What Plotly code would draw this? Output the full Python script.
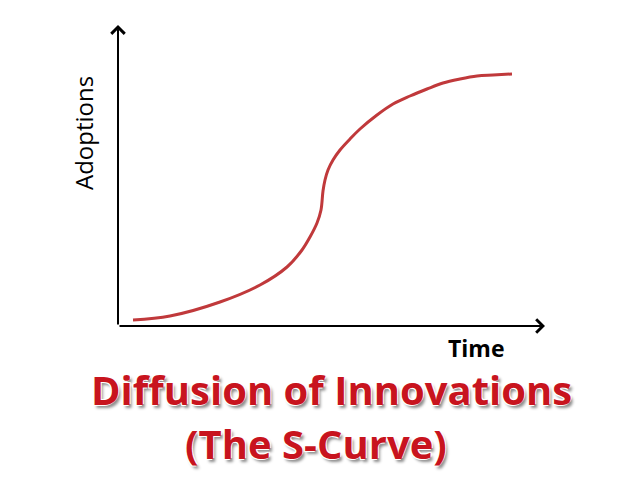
import plotly.graph_objects as go

# S-curve (time vs. adoptions, arbitrary units)
time = [15, 52, 102, 142, 169, 184, 192, 199, 203, 205, 207, 210, 215, 222, 232,
        242, 259, 275, 292, 309, 325, 342, 359, 375, 394]
adoptions = [6, 10, 24, 41, 59, 76, 89, 103, 116, 135, 146, 156, 166, 176, 187,
             197, 211, 222, 230, 237, 243, 247, 250, 251, 252]

x_max = 427
y_max = 301

x_label = "Time"
y_label = "Adoptions"
title_lines = ["Diffusion of Innovations", "(The S-Curve)"]

fig = go.Figure()
fig.add_trace(go.Scatter(
    x=time, y=adoptions, mode="lines",
    line=dict(color="#C0393B", width=3, shape="spline", smoothing=1.0),
    hoverinfo="skip", showlegend=False,
))

axis_common = dict(visible=False, fixedrange=True)
fig.update_layout(
    width=640, height=480,
    margin=dict(l=110, r=103, t=17, b=162),
    paper_bgcolor="white", plot_bgcolor="white",
    xaxis=dict(range=[0, x_max], **axis_common),
    yaxis=dict(range=[0, y_max], **axis_common),
    showlegend=False,
)

# axis arrows
fig.add_annotation(x=x_max, y=0, ax=0, ay=0, xref="x", yref="y", axref="x", ayref="y",
                   text="", showarrow=True, arrowhead=4, arrowsize=1.3, arrowwidth=2,
                   arrowcolor="black", standoff=0, startstandoff=0)
fig.add_annotation(x=0, y=y_max, ax=0, ay=0, xref="x", yref="y", axref="x", ayref="y",
                   text="", showarrow=True, arrowhead=4, arrowsize=1.3, arrowwidth=2,
                   arrowcolor="black", standoff=0, startstandoff=0)

# axis labels
fig.add_annotation(x=-35 / x_max, y=193 / y_max, xref="paper", yref="paper",
                   xanchor="center", yanchor="middle",
                   text=y_label, textangle=-90, showarrow=False,
                   font=dict(family="Open Sans", size=24, color="black"))
fig.add_annotation(x=358 / x_max, y=-22 / y_max, xref="paper", yref="paper",
                   xanchor="center", yanchor="middle",
                   text="<b>" + x_label + "</b>", showarrow=False,
                   font=dict(family="Open Sans", size=23, color="black"))

# title
shadow = "-1px -1px 0 #fff, 1px -1px 0 #fff, -1px 1px 0 #fff, 2px 3px 3px rgba(0,0,0,0.45)"
fig.add_annotation(x=213 / x_max, y=-63 / y_max, xref="paper", yref="paper",
                   xanchor="center", yanchor="middle",
                   text="<b>" + title_lines[0] + "</b>", showarrow=False,
                   font=dict(family="Open Sans", size=40, color="#C8141E", shadow=shadow))
fig.add_annotation(x=198 / x_max, y=-117 / y_max, xref="paper", yref="paper",
                   xanchor="center", yanchor="middle",
                   text="<b>" + title_lines[1] + "</b>", showarrow=False,
                   font=dict(family="Open Sans", size=40, color="#C8141E", shadow=shadow))

fig.write_html("out.html", config={"displayModeBar": False})
